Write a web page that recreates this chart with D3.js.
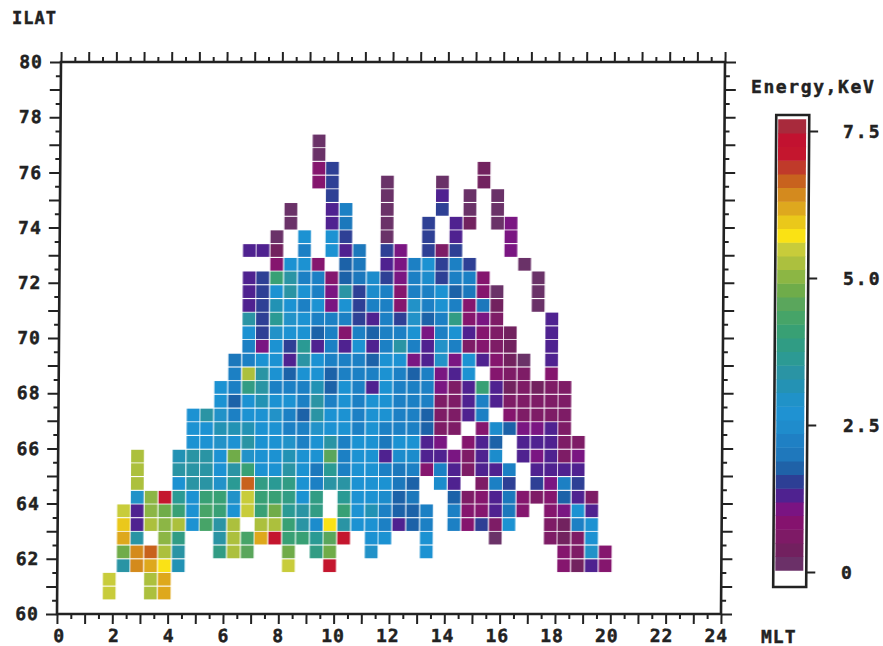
<!DOCTYPE html>
<html>
<head>
<meta charset="utf-8">
<script src="https://cdn.jsdelivr.net/npm/d3@7"></script>
<style>
  body { margin: 0; background: #fff; }
  text { font-family: "DejaVu Sans Mono", monospace; font-weight: bold; fill: #222; stroke: #222; stroke-width: 0.45px; }
  .tick line, .frame { stroke: #222; }
</style>
</head>
<body>
<svg id="chart" width="883" height="646"></svg>
<script>
const _ = null;

// bin centres
const mltBins = [1.88, 2.38, 2.87, 3.37, 3.87, 4.37, 4.87, 5.36, 5.86, 6.36, 6.86, 7.35, 7.85,
  8.35, 8.85, 9.35, 9.84, 10.34, 10.84, 11.34, 11.83, 12.33, 12.83, 13.33, 13.82, 14.32, 14.82,
  15.32, 15.82, 16.31, 16.81, 17.31, 17.81, 18.3, 18.8, 19.3, 19.8];
const ilatBins = [60.76, 61.26, 61.75, 62.25, 62.75, 63.24, 63.74, 64.23, 64.73, 65.23, 65.72,
  66.22, 66.72, 67.21, 67.71, 68.21, 68.7, 69.2, 69.7, 70.19, 70.69, 71.18, 71.68, 72.18, 72.67,
  73.17, 73.67, 74.16, 74.66, 75.16, 75.65, 76.15, 76.65, 77.14];

// index of the first mlt bin of each ilat row
const rowFirstBin = [0, 0, 1, 1, 1, 1, 1, 2, 2, 2, 2, 6, 6, 6, 8, 8, 9, 9, 10, 10, 10, 10, 10, 10,
  12, 10, 12, 13, 13, 16, 15, 15, 15, 15];

// energy in keV, one list per ilat row, bottom row first
const rowEnergy = [
  [5.5, _, _, 5.3, 6.2],
  [5.5, _, _, 5.3, 6.2],
  [3.4, 6.45, 6.2, 5.75, 3.2, _, _, _, _, _, _, _, 5.5, _, _, 7.15, _, _, _, _, _, _, _, _, _, _, _, _, _, _, _, _, .85, .38, 1.3, .85],
  [4.8, 6.45, 6.7, 5.3, 3.4, _, _, 3.9, 5.3, 4.6, _, _, 4.8, _, 3.9, 4.8, _, _, 3.0, _, _, _, 2.7, _, _, _, _, _, _, _, _, _, .85, .62, 3.0, .85],
  [6.2, 3.4, _, 5.05, 3.9, _, _, 3.4, 5.3, 4.35, 6.2, 7.15, 4.1, 4.1, 3.65, 4.6, 7.15, _, 2.7, 2.7, _, _, 2.7, _, _, _, _, .15, _, _, _, .62, .38, .62, 2.7],
  [6.0, 1.3, 5.3, 5.05, 5.3, 2.7, 4.35, 3.4, 5.3, _, 5.3, 5.3, 4.1, 3.4, 2.5, 5.75, 3.4, 2.7, 2.7, 2.2, 1.3, 1.8, 2.2, _, 2.2, .85, 1.5, .62, 2.7, _, _, .62, .38, 2.2, 2.7],
  [5.5, 1.3, 5.05, 4.8, 4.1, 2.7, 4.35, 4.1, 2.6, 5.5, 4.1, 4.8, 3.65, 3.4, 3.9, _, 4.1, 2.7, 3.2, 2.2, 1.8, 1.8, 2.2, _, 2.2, .85, .85, 1.3, 2.0, .85, _, .85, 1.1, 2.7, 1.3],
  [3.0, 5.05, 7.15, 3.65, 2.7, 4.1, 4.1, 3.0, 5.5, 4.1, 4.1, 3.9, 2.7, 3.9, _, 3.65, 2.7, 2.7, 2.4, 1.8, 2.0, _, _, 1.8, .62, .85, 1.3, 2.0, .85, .62, .85, 1.8, 1.3, .62],
  [5.3, _, _, 2.7, 3.4, 3.4, 3.0, 3.65, 6.7, 3.9, 3.65, 3.9, 2.7, 2.2, 3.4, 3.4, 2.7, 2.7, 2.7, 2.0, 1.7, _, 2.4, 1.2, _, .62, 2.2, 1.5, _, 1.5, 1.1, 2.2, 1.45],
  [5.3, _, _, 3.4, 3.4, 3.4, 2.7, 3.4, 4.1, 2.7, 2.7, 3.4, 2.7, 2.0, 3.65, 2.2, 2.7, 2.7, 2.2, 2.0, 2.2, .85, 2.2, 1.3, .62, 1.3, 1.3, 2.2, _, 1.3, 1.2, 1.3, 1.3],
  [5.3, _, _, 3.2, 3.4, 3.4, 2.7, 4.8, 3.0, 2.7, 2.7, 3.2, 2.7, 2.7, 4.6, 2.2, 2.7, 2.7, 1.3, 2.4, 2.4, 1.3, 1.3, 1.1, .62, 1.3, 2.4, _, 1.2, 1.0, 1.2, .62, 1.0],
  [2.7, 2.7, 3.0, 2.7, 3.4, 2.7, 2.7, 3.0, 2.2, 2.7, 3.4, 2.2, 2.7, 2.7, 2.0, 2.7, 2.7, 1.3, 1.0, _, .8, 1.3, 1.8, _, 1.25, 1.3, 1.25, .7, .7],
  [2.7, 2.7, 3.2, 3.2, 3.2, 2.7, 2.7, 2.2, 2.2, 3.0, 2.7, 2.7, 2.2, 2.7, 2.2, 2.2, 2.2, 1.8, .62, .62, _, .85, 2.4, 1.8, 1.1, 1.1, 1.3, .62],
  [2.7, 3.4, 3.0, 2.2, 2.7, 2.7, 3.0, 2.2, 1.8, 3.4, 2.7, 2.7, 2.2, 2.7, 2.7, 2.2, 2.2, 1.8, .62, .5, 1.2, 2.2, _, .85, .62, .62, .62, .62],
  [2.7, 1.8, 2.7, 3.2, 2.7, 2.7, 2.2, 3.4, 2.2, 2.7, 2.2, 2.7, 2.7, 2.2, 2.2, 2.2, .62, .5, 1.2, 2.2, 1.3, .5, .62, .62, .62, .62],
  [2.7, 2.2, 3.9, 3.4, 2.2, 2.2, 2.2, 3.2, 1.8, 2.7, 2.2, 1.3, 2.7, 2.2, 2.2, 2.2, 1.1, .5, 1.2, 4.1, 1.3, .4, .62, .4, .62, .62],
  [2.2, 5.3, 3.4, 2.7, 1.8, 2.7, 2.7, 1.8, 2.2, 2.2, 2.2, 2.7, 2.2, 1.8, 2.2, 1.1, 1.2, 2.7, _, .85, .5, .62, _, .75],
  [1.9, 2.2, 2.7, 2.7, 1.2, 3.4, 2.7, 2.2, 2.2, 2.2, 1.8, 2.7, 2.7, 1.1, 1.3, 3.0, 1.0, 2.7, 1.25, .85, .4, .2, _, 1.25],
  [2.2, 1.1, 2.7, 1.45, 3.65, 1.3, 2.2, 1.3, 2.7, 1.3, 2.2, 3.4, 2.2, 1.3, 3.0, 2.2, .62, .85, .5, .4, _, _, 1.25],
  [2.7, 1.55, 3.0, 2.7, 2.7, 1.8, 2.2, .85, 2.2, 1.8, 2.2, 2.2, 2.7, 1.1, 2.2, 2.7, 1.25, .85, .5, .4, _, _, 1.25],
  [3.4, 1.5, 3.65, 3.0, 2.7, 2.2, 2.2, 2.2, 1.5, 1.25, 2.2, 1.5, 3.0, 1.8, 2.2, 3.9, .85, 1.1, .5, _, _, _, 1.25],
  [1.25, 1.55, 3.2, 2.7, 2.2, 2.7, .97, 2.7, 1.5, 2.2, 2.2, .85, 3.0, 2.2, 2.7, 2.2, .85, 2.0, .4, _, _, .15],
  [1.25, 1.55, 2.7, 3.4, 2.7, 2.2, .97, 3.4, 1.5, 2.5, 2.2, .85, 2.2, 2.2, 2.7, 1.8, 1.9, .85, .2, _, _, .15],
  [1.25, 1.5, 4.1, 3.4, 2.2, 2.2, .85, 1.8, 2.0, 2.4, 1.5, 1.0, 2.2, 2.4, 1.6, 2.2, 2.2, .9, _, _, _, .15],
  [.85, 2.7, 2.7, .85, _, 1.8, 1.9, _, 1.35, 1.05, 2.2, 2.6, 1.5, 2.3, 1.5, _, _, _, .15],
  [1.25, 1.35, .3, _, 2.2, _, 2.7, 1.3, 1.9, _, 1.5, .97, _, 1.55, .6, 1.55, _, _, _, 1.0],
  [.15, _, 2.7, _, 2.7, 1.5, _, _, .15, _, _, 1.55, _, 1.3, _, _, _, 1.0],
  [.15, _, _, 1.25, 2.0, _, _, .15, _, _, 1.55, _, 1.3, .3, _, .15, 1.0],
  [.2, _, _, 1.3, 2.2, _, _, .15, _, _, _, 1.6, _, .15, _, .15],
  [1.55, _, _, _, .15, _, _, _, 1.25, _, .2, _, .15],
  [.85, 1.5, _, _, _, .15, _, _, _, .15, _, _, .3],
  [.85, 1.5, _, _, _, _, _, _, _, _, _, _, .3],
  [.15],
  [.15]
];

// colour bar bands, 0 keV upwards
const bandColors = ["#6b3068", "#72205f", "#7e1a66", "#85126e", "#7a1482", "#4f2290", "#2d3f95",
  "#1f62a8", "#1f78bc", "#1f80c4", "#1f8ccc", "#1f92d2", "#2092c8", "#2492b4", "#2a94a4", "#2c9a94",
  "#309c84", "#38a074", "#46a468", "#5aa65c", "#6fac4a", "#8cb644", "#acc03e", "#c8cc3a", "#fae214",
  "#eac81a", "#dea81e", "#d48a1e", "#c8621e", "#c03a2a", "#c4162e", "#c21230", "#a82a3c"];

const mltLabels = [0, 2, 4, 6, 8, 10, 12, 14, 16, 18, 20, 22, 24];
const ilatLabels = [60, 62, 64, 66, 68, 70, 72, 74, 76, 78, 80];
const barLabels = [0, 2.5, 5, 7.5];

const svg = d3.select("#chart");
const plotW = 664, plotH = 552;

const x = d3.scaleLinear().domain([0, 24]).range([0, plotW]);
const xLabel = d3.scaleLinear().domain([0, 24]).range([2, plotW - 5]);
const y = d3.scaleLinear().domain([60, 80]).range([plotH, 0]);
const color = d3.scaleQuantize().domain([0.03, 7.7]).range(bandColors);

svg.append("defs").append("filter").attr("id", "scan")
  .append("feGaussianBlur").attr("stdDeviation", 0.35);

// the page was scanned a little crooked, so everything leans slightly
const plot = svg.append("g").attr("transform", "matrix(1,0,-0.00725,1,61,62)");

// cells
const cells = rowEnergy.flatMap((row, r) =>
  row.map((e, i) => ({ mlt: mltBins[rowFirstBin[r] + i], ilat: ilatBins[r], e }))
    .filter((d) => d.e !== null));

const cellW = x(0.46) - x(0);
const cellH = y(60) - y(60.46);

plot.append("g").attr("filter", "url(#scan)")
  .selectAll("rect")
  .data(cells)
  .join("rect")
  .attr("x", (d) => x(d.mlt) - cellW / 2)
  .attr("y", (d) => y(d.ilat) - cellH / 2)
  .attr("width", cellW)
  .attr("height", cellH)
  .attr("fill", (d) => color(d.e));

// ticks on all four sides, hour/degree long and half short
const hours = d3.range(0, 24.5, 1), halfHours = d3.range(0.5, 24, 1);
const degs = d3.range(60, 80.5, 1), halfDegs = d3.range(60.5, 80, 1);

function addAxis(axis, major, minor, translate) {
  [[major, axis === d3.axisLeft || axis === d3.axisRight ? 11 : 10], [minor, 5]].forEach(([vals, len]) => {
    const scale = axis === d3.axisLeft || axis === d3.axisRight ? y : x;
    const g = plot.append("g")
      .attr("transform", translate)
      .call(axis(scale).tickValues(vals).tickSize(len).tickFormat(""));
    g.select(".domain").remove();
    g.selectAll("line").attr("stroke-width", 2);
  });
}
addAxis(d3.axisBottom, hours, halfHours, `translate(0,${plotH})`);
addAxis(d3.axisTop, hours, halfHours, "translate(0,0)");
addAxis(d3.axisLeft, degs, halfDegs, "translate(0,0)");
addAxis(d3.axisRight, degs, halfDegs, `translate(${plotW},0)`);

plot.append("rect").attr("class", "frame")
  .attr("width", plotW).attr("height", plotH)
  .attr("fill", "none").attr("stroke-width", 2.6);

// tick labels
const xAxisLabels = plot.append("g")
  .attr("transform", `translate(0,${plotH})`)
  .call(d3.axisBottom(xLabel).tickValues(mltLabels).tickSize(0).tickPadding(15).tickFormat((d) => d));
xAxisLabels.select(".domain").remove();
xAxisLabels.selectAll("text").style("font-size", "18px")
  .style("font-family", "DejaVu Sans Mono").style("letter-spacing", "1px");

const yAxisLabels = plot.append("g")
  .call(d3.axisLeft(y).tickValues(ilatLabels).tickSize(0).tickPadding(18).tickFormat((d) => d));
yAxisLabels.select(".domain").remove();
yAxisLabels.selectAll("text").style("font-size", "18px")
  .style("font-family", "DejaVu Sans Mono").style("letter-spacing", "1px");

svg.append("text").attr("x", 12).attr("y", 24).style("font-size", "17px").style("letter-spacing", "1px").text("ILAT");
svg.append("text").attr("x", 761).attr("y", 643).style("font-size", "18px").style("letter-spacing", "1px").text("MLT");
svg.append("text").attr("x", 751).attr("y", 93).style("font-size", "18px").style("letter-spacing", "1.6px").text("Energy,KeV");

// colour bar
const bar = svg.append("g").attr("transform", "matrix(1,0,-0.0065,1,0,0)");
const yBar = d3.scaleLinear().domain([0, 7.5]).range([572, 131]);

bar.selectAll("rect.band")
  .data(bandColors)
  .join("rect")
  .attr("class", "band")
  .attr("x", 779)
  .attr("width", 28)
  .attr("y", (c) => yBar(color.invertExtent(c)[1]))
  .attr("height", (c) => yBar(color.invertExtent(c)[0]) - yBar(color.invertExtent(c)[1]) + 0.5)
  .attr("fill", (c) => c);

bar.append("rect").attr("class", "frame")
  .attr("x", 777).attr("y", 115).attr("width", 33).attr("height", 472)
  .attr("fill", "none").attr("stroke-width", 2.6);

const barAxis = bar.append("g")
  .attr("transform", "translate(810,0)")
  .call(d3.axisRight(yBar).tickValues(barLabels).tickSize(9).tickFormat(""));
barAxis.select(".domain").remove();
barAxis.selectAll("line").attr("stroke-width", 2);

svg.selectAll("text.barLabel")
  .data(barLabels)
  .join("text")
  .attr("class", "barLabel")
  .attr("x", (d) => (d === 0 ? 841 : 843))
  .attr("y", (d) => yBar(d) + 7)
  .style("font-size", "18px")
  .style("letter-spacing", "2px")
  .text((d) => (d === 0 ? "0" : d.toFixed(1)));
</script>
</body>
</html>
